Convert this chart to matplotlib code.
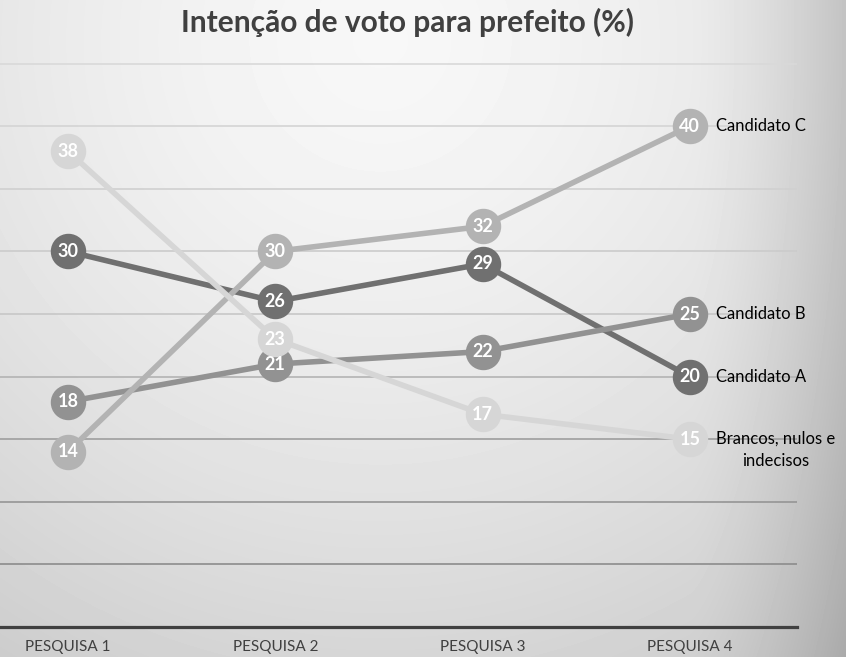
import numpy as np
import matplotlib.pyplot as plt

# survey data (percent)
pesquisas = ['PESQUISA 1', 'PESQUISA 2', 'PESQUISA 3', 'PESQUISA 4']
candidato_a = [30, 26, 29, 20]
candidato_b = [18, 21, 22, 25]
candidato_c = [14, 30, 32, 40]
brancos = [38, 23, 17, 15]
series_names = ['Candidato A', 'Candidato B', 'Candidato C', 'Brancos, nulos e\nindecisos']
grid_levels = [5, 10, 15, 20, 25, 30, 35, 40, 45]

plt.rcParams['font.family'] = ['Lato', 'DejaVu Sans']

W, H = 846, 657
fig = plt.figure(figsize=(W / 100, H / 100), dpi=100)

# background gradient (light top centre, darker towards the right edge)
yy, xx = np.mgrid[0:H, 0:W]
d = np.hypot(xx - 380, yy - 40)
v = 0.97 - 0.16 * (d / 700) ** 1.5 - 0.12 * np.clip((xx - 690) / 156, 0, 1) ** 1.5
fig.figimage(v, cmap='gray', vmin=0, vmax=1, origin='upper', zorder=-10)

ax = fig.add_axes([0, 30 / H, 797 / W, 626 / H])
ax.patch.set_alpha(0)
x = np.arange(len(pesquisas))
ax.set_xlim(-0.328, 3.517)
ax.set_ylim(0, 50)

for lvl in grid_levels:
    g = np.interp(lvl, [5, 15, 25, 45], [0.55, 0.62, 0.78, 0.85])
    ax.axhline(lvl, color=str(g), lw=1.2, zorder=1)

colors = ['#707070', '#929292', '#b3b3b3', '#d6d6d6']
data = [candidato_a, candidato_b, candidato_c, brancos]
for vals, col, name in zip(data, colors, series_names):
    ax.plot(x, vals, color=col, lw=4, marker='o', ms=24.5, mec=col, mfc=col,
            solid_capstyle='round', zorder=3)
    for xi, val in zip(x, vals):
        ax.text(xi, val, str(val), color='white', fontsize=13, fontweight='bold',
                ha='center', va='center', zorder=4)
    multi = '\n' in name
    ax.annotate(name, (x[-1], vals[-1]), xytext=(19, 6 if multi else 0),
                textcoords='offset points', ha='left', va='top' if multi else 'center',
                multialignment='center', fontsize=12, color='black', zorder=5,
                linespacing=1.5)

ax.set_xticks(x)
ax.set_xticklabels(pesquisas, fontsize=11, color='#404040')
ax.tick_params(axis='x', length=0, pad=9)
ax.set_yticks([])
for s in ['top', 'left', 'right']:
    ax.spines[s].set_visible(False)
ax.spines['bottom'].set_color('#404040')
ax.spines['bottom'].set_linewidth(2.3)

fig.text(407 / W, 1 - 22 / H, 'Intenção de voto para prefeito (%)', ha='center', va='center',
         fontsize=21.5, fontweight='bold', color='#404040')

fig.savefig('out.png', dpi=100)
